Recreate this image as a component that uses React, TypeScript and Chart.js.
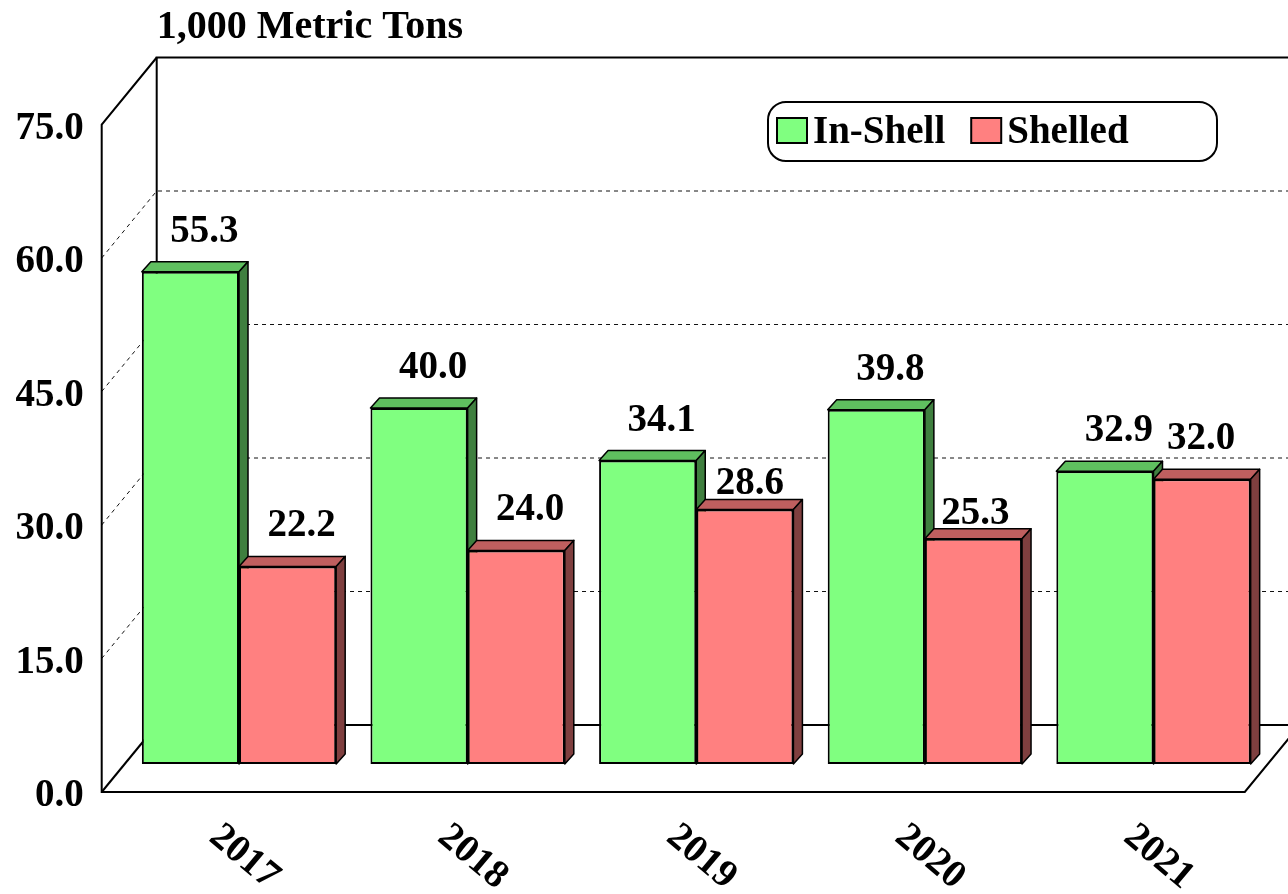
import React, { useEffect, useRef } from "react";
import { Chart, registerables } from "chart.js";

Chart.register(...registerables);

const years = ["2017", "2018", "2019", "2020", "2021"];
const inShell = [55.3, 40.0, 34.1, 39.8, 32.9];
const shelled = [22.2, 24.0, 28.6, 25.3, 32.0];
const seriesNames = ["In-Shell", "Shelled"];
const yTicks = [0, 15, 30, 45, 60, 75];
const titleText = "1,000 Metric Tons";

// small per-label nudges (px) seen in the original layout, [dataset][category] => [dx, dy]
const labelNudges = [
  [[0, 0], [0, 0], [0, 0], [0, 0], [0, 0]],
  [[0, 0], [0, 0], [-9, 15], [-12, 15], [-15, 0]],
];

const FONT_FAMILY = '"Liberation Serif", "Times New Roman", serif';
const FONT = `bold 39px ${FONT_FAMILY}`;
const TITLE_FONT = `bold 40px ${FONT_FAMILY}`;
const FRONT = { dx: -23, dy: 28 };
const BACK = { dx: 32, dy: -39 };
const BAR_DEPTH = { dx: 9, dy: -10 };
const faceColors = [
  { front: "#80FF80", top: "#5FBF5F", side: "#3F7F3F" },
  { front: "#FF8080", top: "#BF5F5F", side: "#7F3F3F" },
];

const frame3d = {
  id: "frame3d",
  beforeDatasetsDraw(chart: any) {
    const ctx = chart.ctx as CanvasRenderingContext2D;
    const { left, right } = chart.chartArea;
    const ys = chart.scales.y;
    const y0 = ys.getPixelForValue(yTicks[0]);
    const yTop = ys.getPixelForValue(yTicks[yTicks.length - 1]);
    ctx.save();
    // dashed gridlines (left wall + back wall)
    ctx.strokeStyle = "#111";
    ctx.lineWidth = 1;
    ctx.setLineDash([4, 4]);
    yTicks.slice(1, -1).forEach((t) => {
      const p = ys.getPixelForValue(t);
      ctx.beginPath();
      ctx.moveTo(left + FRONT.dx, p + FRONT.dy);
      ctx.lineTo(left + BACK.dx, p + BACK.dy);
      ctx.lineTo(right + BACK.dx, p + BACK.dy);
      ctx.stroke();
    });
    ctx.setLineDash([]);
    ctx.strokeStyle = "#000";
    ctx.lineWidth = 2;
    ctx.lineJoin = "miter";
    // back wall
    ctx.beginPath();
    ctx.moveTo(right + BACK.dx + 20, yTop + BACK.dy);
    ctx.lineTo(left + BACK.dx, yTop + BACK.dy);
    ctx.lineTo(left + BACK.dx, y0 + BACK.dy);
    ctx.lineTo(right + BACK.dx, y0 + BACK.dy);
    ctx.stroke();
    // left wall and floor front
    ctx.beginPath();
    ctx.moveTo(left + BACK.dx, yTop + BACK.dy);
    ctx.lineTo(left + FRONT.dx, yTop + FRONT.dy);
    ctx.lineTo(left + FRONT.dx, y0 + FRONT.dy);
    ctx.lineTo(right + FRONT.dx, y0 + FRONT.dy);
    ctx.lineTo(right + BACK.dx, y0 + BACK.dy);
    ctx.stroke();
    ctx.beginPath();
    ctx.moveTo(left + FRONT.dx, y0 + FRONT.dy);
    ctx.lineTo(left + BACK.dx, y0 + BACK.dy);
    ctx.stroke();

    // 3D top and side faces of bars (front faces drawn by Chart.js afterwards)
    ctx.lineWidth = 1.5;
    ctx.lineJoin = "round";
    for (let i = 0; i < years.length; i++) {
      for (let d = 0; d < chart.data.datasets.length; d++) {
        const el = chart.getDatasetMeta(d).data[i];
        const { x, y, base, width } = el.getProps(["x", "y", "base", "width"], true);
        const l = x - width / 2;
        const r = x + width / 2;
        const c = faceColors[d];
        // top
        ctx.beginPath();
        ctx.moveTo(l, y);
        ctx.lineTo(r, y);
        ctx.lineTo(r + BAR_DEPTH.dx, y + BAR_DEPTH.dy);
        ctx.lineTo(l + BAR_DEPTH.dx, y + BAR_DEPTH.dy);
        ctx.closePath();
        ctx.fillStyle = c.top;
        ctx.fill();
        ctx.stroke();
        // side
        ctx.beginPath();
        ctx.moveTo(r, y);
        ctx.lineTo(r + BAR_DEPTH.dx, y + BAR_DEPTH.dy);
        ctx.lineTo(r + BAR_DEPTH.dx, base + BAR_DEPTH.dy);
        ctx.lineTo(r, base);
        ctx.closePath();
        ctx.fillStyle = c.side;
        ctx.fill();
        ctx.stroke();
      }
    }
    ctx.restore();
  },
  afterDatasetsDraw(chart: any) {
    const ctx = chart.ctx as CanvasRenderingContext2D;
    const { left } = chart.chartArea;
    const ys = chart.scales.y;
    const xs = chart.scales.x;
    const y0 = ys.getPixelForValue(0);
    ctx.save();
    ctx.fillStyle = "#000";
    ctx.font = FONT;

    // value labels
    ctx.textAlign = "center";
    ctx.textBaseline = "alphabetic";
    chart.data.datasets.forEach((ds: any, d: number) => {
      chart.getDatasetMeta(d).data.forEach((el: any, i: number) => {
        const { x, y } = el.getProps(["x", "y"], true);
        const [ndx, ndy] = labelNudges[d][i];
        ctx.fillText(Number(ds.data[i]).toFixed(1), x + 14 + ndx, y - 30 + ndy);
      });
    });

    // y-axis labels on front plane
    ctx.textAlign = "right";
    yTicks.forEach((t) => {
      const p = ys.getPixelForValue(t) + FRONT.dy;
      ctx.fillText(t.toFixed(1), left + FRONT.dx - 18, p + 14);
    });

    // x-axis labels rotated clockwise
    ctx.textAlign = "center";
    ctx.textBaseline = "middle";
    years.forEach((lbl, i) => {
      const px = xs.getPixelForValue(i);
      ctx.save();
      ctx.translate(px + 5, y0 + FRONT.dy + 65);
      ctx.rotate((40 * Math.PI) / 180);
      ctx.fillText(lbl, 0, 0);
      ctx.restore();
    });

    // title
    ctx.textAlign = "left";
    ctx.textBaseline = "alphabetic";
    ctx.font = TITLE_FONT;
    ctx.fillText(titleText, left + BACK.dx, 38);
    ctx.font = FONT;

    // legend
    const lx = 768, ly = 102, lw = 449, lh = 59;
    ctx.lineWidth = 2;
    ctx.strokeStyle = "#000";
    ctx.beginPath();
    (ctx as any).roundRect(lx, ly, lw, lh, 18);
    ctx.stroke();
    let cx = lx + 9;
    seriesNames.forEach((name, d) => {
      ctx.fillStyle = faceColors[d].front;
      ctx.fillRect(cx, 118, 30, 25);
      ctx.strokeRect(cx, 118, 30, 25);
      ctx.fillStyle = "#000";
      ctx.fillText(name, cx + 36, 143);
      cx += 36 + ctx.measureText(name).width + 26;
    });
    ctx.restore();
  },
};

export default function App() {
  const ref = useRef<HTMLCanvasElement | null>(null);
  useEffect(() => {
    if (!ref.current) return;
    const chart = new Chart(ref.current, {
      type: "bar",
      data: {
        labels: years,
        datasets: [
          {
            label: seriesNames[0],
            data: inShell,
            backgroundColor: faceColors[0].front,
            borderColor: "#000",
            borderWidth: 2,
            borderSkipped: false,
            categoryPercentage: 0.85,
            barPercentage: 1.0,
          },
          {
            label: seriesNames[1],
            data: shelled,
            backgroundColor: faceColors[1].front,
            borderColor: "#000",
            borderWidth: 2,
            borderSkipped: false,
            categoryPercentage: 0.85,
            barPercentage: 1.0,
          },
        ],
      },
      options: {
        responsive: false,
        animation: false,
        layout: { padding: { left: 124.7, right: 20.2, top: 96.5, bottom: 130 } },
        plugins: { legend: { display: false }, title: { display: false }, tooltip: { enabled: false } },
        scales: {
          x: { display: false, grid: { display: false } },
          y: { display: false, min: 0, max: 75, ticks: { stepSize: 15 } },
        },
      },
      plugins: [frame3d],
    });
    return () => chart.destroy();
  }, []);
  return (
    <div style={{ position: "fixed", left: 0, top: 0, width: 1288, height: 894, background: "#fff" }}>
      <canvas ref={ref} width={1288} height={894} />
    </div>
  );
}
